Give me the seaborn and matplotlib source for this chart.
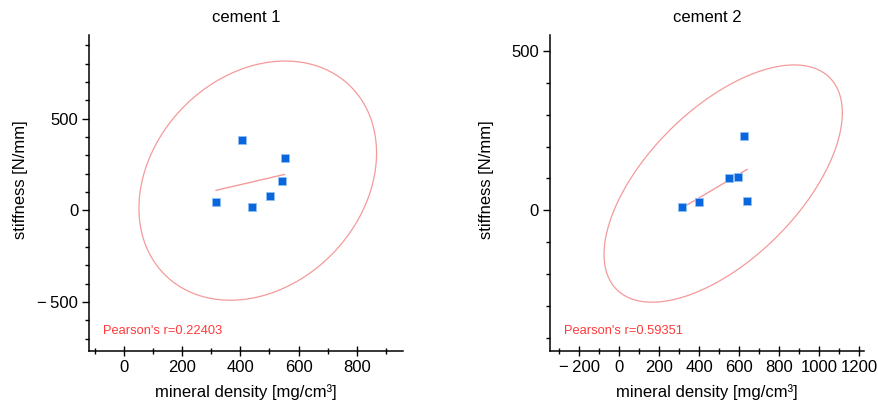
import numpy as np
import pandas as pd
import matplotlib
matplotlib.use("Agg")
import matplotlib.pyplot as plt
from matplotlib.ticker import MultipleLocator, FuncFormatter
import seaborn as sns

# ---- data ----
titles = ["cement 1", "cement 2"]
density_c1 = [316, 405, 441, 503, 542, 552]
stiffness_c1 = [45, 382, 20, 78, 160, 287]
density_c2 = [315, 398, 547, 592, 622, 640]
stiffness_c2 = [12, 25, 100, 104, 232, 31]
pearson_labels = ["Pearson's r=0.22403", "Pearson's r=0.59351"]

sns.set_theme(style="white")
plt.rcParams['font.family'] = ['Liberation Sans', 'DejaVu Sans']

fig = plt.figure(figsize=(8.79, 4.03), dpi=100)
ax1 = fig.add_axes([0.1016, 0.1298, 0.3572, 0.7834])
ax2 = fig.add_axes([0.6257, 0.1298, 0.3572, 0.7834])

datasets = [(density_c1, stiffness_c1), (density_c2, stiffness_c2)]
limits = [((-119, 960), (-765, 956)), ((-347, 1223), (-439, 549))]
ylabel_x = [-0.195, -0.178]

blue = "#0a66dc"
red_line = "#f59a9a"
red_text = "#ff3b3b"


def fmt(v, pos):
    v = int(round(v))
    if v < 0:
        return "\u2212\u2009" + str(-v)
    return str(v)


for ax, (xs, ys), title, lab, (xl, yl), ylx in zip([ax1, ax2], datasets, titles,
                                                    pearson_labels, limits, ylabel_x):
    df = pd.DataFrame({"x": xs, "y": ys})
    # 95% prediction ellipse from the data covariance
    n = len(xs)
    data = np.column_stack([xs, ys]).astype(float)
    mean = data.mean(axis=0)
    cov = np.cov(data.T)
    df2 = n - 2
    F = (df2 / 2.0) * (0.05 ** (-2.0 / df2) - 1.0)
    k = np.sqrt(2 * (n - 1) / (n - 2) * F * (n + 1) / n)
    L = np.linalg.cholesky(cov)
    t = np.linspace(0, 2 * np.pi, 400)
    circ = np.vstack([np.cos(t), np.sin(t)])
    ell = mean[:, None] + k * (L @ circ)
    ax.plot(ell[0], ell[1], color=red_line, lw=0.9, zorder=1)

    sns.regplot(data=df, x="x", y="y", ax=ax, scatter=False, ci=None,
                truncate=True, line_kws=dict(color=red_line, lw=1.0, zorder=2))
    sns.scatterplot(data=df, x="x", y="y", ax=ax, marker="s", s=28,
                    color=blue, edgecolor="#8fc0f5", linewidth=0.6, zorder=3)

    ax.set_xlim(*xl)
    ax.set_ylim(*yl)
    ax.xaxis.set_major_locator(MultipleLocator(200))
    ax.xaxis.set_minor_locator(MultipleLocator(100))
    ax.yaxis.set_major_locator(MultipleLocator(500))
    ax.yaxis.set_minor_locator(MultipleLocator(100))
    ax.xaxis.set_major_formatter(FuncFormatter(fmt))
    ax.yaxis.set_major_formatter(FuncFormatter(fmt))

    for s in ["top", "right"]:
        ax.spines[s].set_visible(False)
    for s in ["left", "bottom"]:
        ax.spines[s].set_color("black")
        ax.spines[s].set_linewidth(1.1)

    ax.tick_params(axis="x", which="major", direction="inout", length=7, width=1,
                   labelsize=12, colors="black", pad=3, bottom=True)
    ax.tick_params(axis="x", which="minor", direction="inout", length=5, width=1,
                   colors="black", bottom=True)
    ax.tick_params(axis="y", which="major", direction="out", length=5, width=1,
                   labelsize=12, colors="black", pad=3, left=True)
    ax.tick_params(axis="y", which="minor", direction="out", length=3, width=1,
                   colors="black", left=True)

    ax.set_title(title, fontsize=12, pad=9, color="black")
    ax.set_xlabel("mineral density [mg/cm³]", fontsize=12, labelpad=7, color="black")
    ax.set_ylabel("stiffness [N/mm]", fontsize=12, color="black")
    ax.yaxis.set_label_coords(ylx, 0.541)

    ax.text(0.045, 0.063, lab, transform=ax.transAxes, color=red_text,
            fontsize=9.3, va="center", ha="left")

fig.savefig("out.png", dpi=100)
